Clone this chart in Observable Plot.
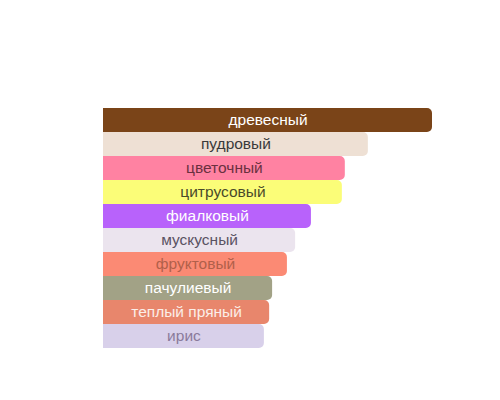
<!DOCTYPE html>
<html>
<head>
<meta charset="utf-8">
<script src="https://cdn.jsdelivr.net/npm/d3@7"></script>
<script src="https://cdn.jsdelivr.net/npm/@observablehq/plot@0.6"></script>
<style>
  html, body { margin: 0; padding: 0; background: #ffffff; }
  #chart { width: 500px; height: 400px; }
</style>
</head>
<body>
<div id="chart"></div>
<script>
const categories = ["древесный", "пудровый", "цветочный", "цитрусовый", "фиалковый", "мускусный", "фруктовый", "пачулиевый", "теплый пряный", "ирис"];
const values = [100, 80.5, 73.5, 72.6, 63.2, 58.4, 55.9, 51.4, 50.5, 48.9];
const barColors = ["#7a4418", "#eee0d4", "#ff82a2", "#fbfd78", "#b862fb", "#ebe4ee", "#fb8a74", "#a2a286", "#e8866c", "#d8d0ea"];
const textColors = ["#ffffff", "#3a3a3a", "#6a3040", "#4a4a2a", "#ffffff", "#5a5262", "#b0604a", "#ffffff", "#fbeee8", "#8a7a9a"];

const data = categories.map((c, i) => ({name: c, value: values[i], bar: barColors[i], txt: textColors[i]}));

const chart = Plot.plot({
  width: 500,
  height: 400,
  marginLeft: 103,
  marginRight: 68,
  marginTop: 108,
  marginBottom: 52,
  style: {background: "#ffffff", fontFamily: "'Liberation Sans', Arial, sans-serif"},
  x: {domain: [0, 100], axis: null},
  y: {domain: categories, axis: null, padding: 0},
  marks: [
    Plot.barX(data, {x1: 0, x2: "value", y: "name", fill: "bar", rx2: 5}),
    Plot.text(data, {x: d => d.value / 2, y: "name", text: "name", fill: "txt", fontSize: 15.5, fontFamily: "'Liberation Sans', Arial, sans-serif", textAnchor: "middle"})
  ]
});
document.getElementById("chart").appendChild(chart);
</script>
</body>
</html>
